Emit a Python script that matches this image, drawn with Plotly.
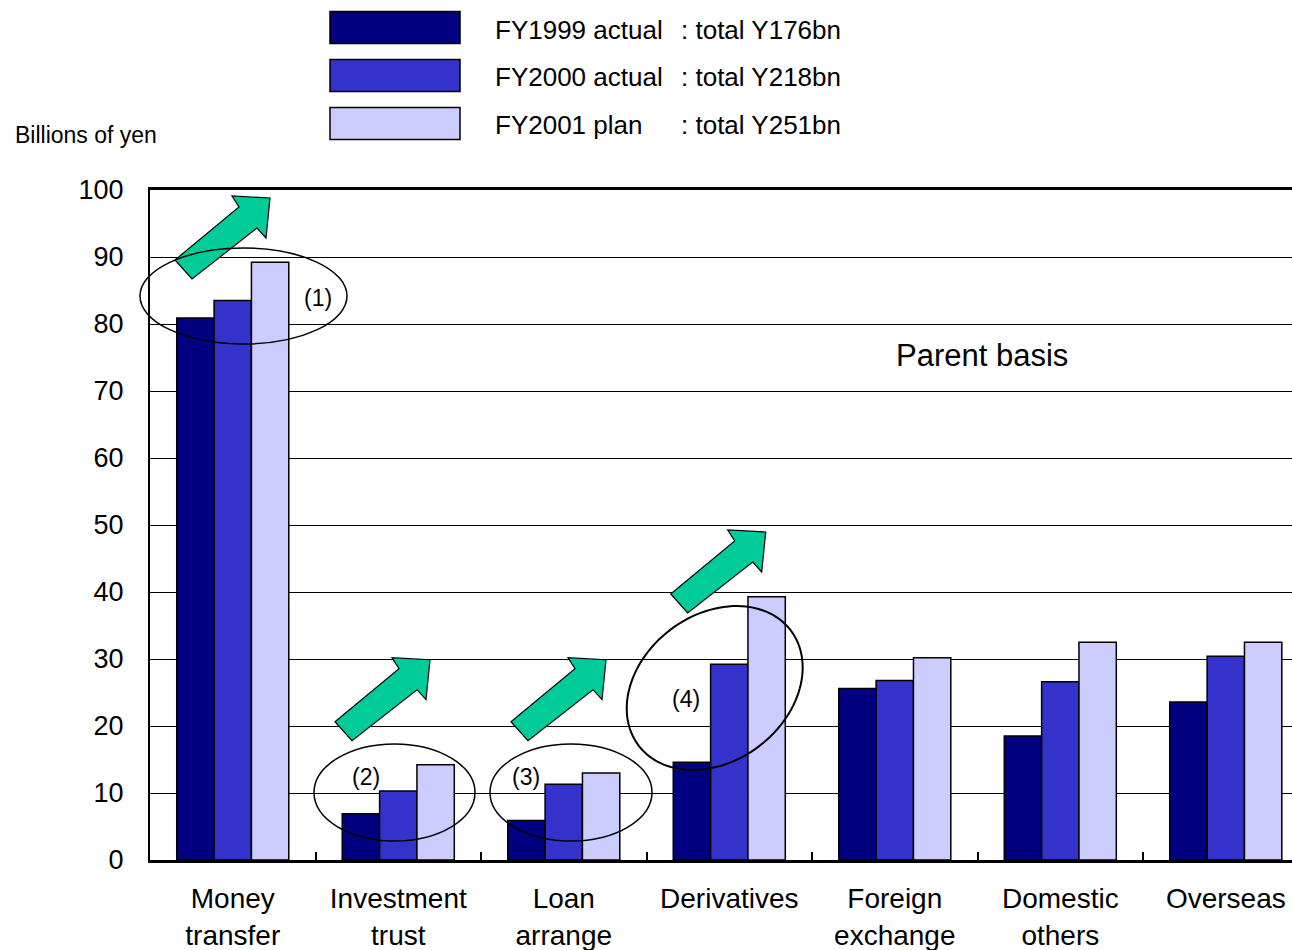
import numpy as np
import plotly.graph_objects as go

# ---- data (billions of yen, parent basis) ----
categories = ["Money<br>transfer", "Investment<br>trust", "Loan<br>arrange", "Derivatives",
              "Foreign<br>exchange", "Domestic<br>others", "Overseas"]
fy1999_actual = [80.9, 6.9, 5.9, 14.6, 25.6, 18.5, 23.6]
fy2000_actual = [83.5, 10.3, 11.3, 29.2, 26.8, 26.6, 30.4]
fy2001_plan = [89.2, 14.2, 13.0, 39.3, 30.2, 32.5, 32.5]

series_names = ["FY1999 actual", "FY2000 actual", "FY2001 plan"]
series_totals = [": total Y176bn", ": total Y218bn", ": total Y251bn"]
series_values = [fy1999_actual, fy2000_actual, fy2001_plan]
series_colors = ["#000080", "#3333CC", "#CCCCFF"]

FONT = "Liberation Sans, Arial, sans-serif"
W, H = 1292, 950
ML, MR, MT, MB = 150, 0, 190, 90
PW, PH = W - ML - MR, H - MT - MB


def to_paper(xp, yp):
    """Convert page pixel position to paper coordinates."""
    return (xp - ML) / PW, (H - MB - yp) / PH


def poly_path(points):
    pts = [to_paper(x, y) for x, y in points]
    return "M " + " L ".join(f"{x:.5f},{y:.5f}" for x, y in pts) + " Z"


fig = go.Figure()
for name, vals, col in zip(series_names, series_values, series_colors):
    fig.add_trace(go.Bar(
        x=categories, y=vals, name=name,
        marker=dict(color=col, line=dict(color="black", width=1.5)),
        showlegend=False,
    ))

shapes = []
annotations = []

# legend: swatches and labels
legend_rows_y = [27.5, 75.5, 123.5]
for name, total, col, yc in zip(series_names, series_totals, series_colors, legend_rows_y):
    x0, y0 = to_paper(330, yc - 16)
    x1, y1 = to_paper(460, yc + 16)
    shapes.append(dict(type="rect", xref="paper", yref="paper", x0=x0, x1=x1, y0=y1, y1=y0,
                       fillcolor=col, line=dict(color="black", width=1.5)))
    tx, ty = to_paper(493, yc + 2)
    annotations.append(dict(text=name, xref="paper", yref="paper", x=tx, y=ty,
                            xanchor="left", yanchor="middle", showarrow=False,
                            font=dict(size=26, color="black", family=FONT)))
    tx2, _ = to_paper(679, yc)
    annotations.append(dict(text=total, xref="paper", yref="paper", x=tx2, y=ty,
                            xanchor="left", yanchor="middle", showarrow=False,
                            font=dict(size=26, color="black", family=FONT)))

# axis title
bx, by = to_paper(13, 135)
annotations.append(dict(text="Billions of yen", xref="paper", yref="paper", x=bx, y=by,
                        xanchor="left", yanchor="middle", showarrow=False,
                        font=dict(size=23, color="black", family=FONT)))

# note
nx, ny = to_paper(982, 355)
annotations.append(dict(text="Parent basis", xref="paper", yref="paper", x=nx, y=ny,
                        xanchor="center", yanchor="middle", showarrow=False,
                        font=dict(size=31, color="black", family=FONT)))

# growth arrows (block arrows pointing up-right)
arrow_outline = [(0, 0), (64, -53), (57, -64), (95, -62), (91, -22), (82, -32), (17, 19)]
arrow_tails = [(175, 260), (335, 721.7), (511, 721.7), (670.7, 594)]
for tx0, ty0 in arrow_tails:
    pts = [(tx0 + dx, ty0 + dy) for dx, dy in arrow_outline]
    shapes.append(dict(type="path", xref="paper", yref="paper", path=poly_path(pts),
                       fillcolor="#00CC99", line=dict(color="black", width=1.2)))

# highlight ellipses
ellipses = [(140, 248, 347, 344), (314, 744, 475, 841), (490, 744, 652, 841)]
for x0p, y0p, x1p, y1p in ellipses:
    ex0, ey0 = to_paper(x0p, y0p)
    ex1, ey1 = to_paper(x1p, y1p)
    shapes.append(dict(type="circle", xref="paper", yref="paper", x0=ex0, x1=ex1,
                       y0=ey1, y1=ey0, line=dict(color="black", width=1.5)))

# tilted ellipse around derivatives
cx, cy, a, b, theta = 714.7, 688.0, 95.4, 73.2, np.deg2rad(37.1)
t = np.linspace(0, 2 * np.pi, 120, endpoint=False)
ex = cx + a * np.cos(t) * np.cos(theta) + b * np.sin(t) * np.sin(theta)
ey = cy - a * np.cos(t) * np.sin(theta) + b * np.sin(t) * np.cos(theta)
shapes.append(dict(type="path", xref="paper", yref="paper",
                   path=poly_path(list(zip(ex, ey))), line=dict(color="black", width=2)))

# circled item numbers
for label, (lx, ly) in zip(["(1)", "(2)", "(3)", "(4)"],
                           [(318, 298), (366, 777), (526, 777), (686, 699)]):
    px_, py_ = to_paper(lx, ly)
    annotations.append(dict(text=label, xref="paper", yref="paper", x=px_, y=py_,
                            xanchor="center", yanchor="middle", showarrow=False,
                            font=dict(size=23, color="black", family=FONT)))

fig.update_layout(
    width=W, height=H,
    margin=dict(l=ML, r=MR, t=MT, b=MB, pad=0),
    paper_bgcolor="white", plot_bgcolor="white",
    barmode="group", bargap=0.323, bargroupgap=0,
    font=dict(family=FONT, color="black"),
    shapes=shapes, annotations=annotations,
    xaxis=dict(
        range=[-0.5, 6.4], tickangle=0,
        showline=True, linecolor="black", linewidth=2.5, mirror=True,
        ticks="inside", tickson="boundaries", ticklen=8, tickwidth=1.5, tickcolor="black",
        showgrid=False, tickfont=dict(size=28, family=FONT, color="black"),
        ticklabelstandoff=12,
    ),
    yaxis=dict(
        range=[0, 100], dtick=10, tick0=0,
        showline=True, linecolor="black", linewidth=2,
        showgrid=True, gridcolor="black", gridwidth=1.3,
        ticks="", tickfont=dict(size=27, family=FONT, color="black"),
        ticklabelstandoff=19, zeroline=False,
    ),
)

fig.write_html("out.html")
